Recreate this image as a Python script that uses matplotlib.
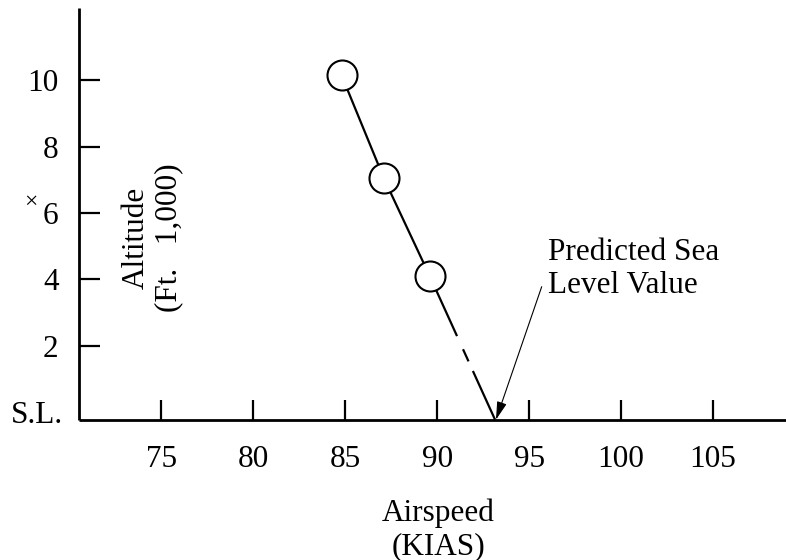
import matplotlib
matplotlib.use("Agg")
import matplotlib.pyplot as plt
from matplotlib.transforms import blended_transform_factory

plt.rcParams['font.family'] = ['Liberation Serif', 'DejaVu Serif']
plt.rcParams['lines.scale_dashes'] = False

# ---- data ----
airspeed_kias = [84.8, 87.1, 89.6]      # measured points
altitude_kft = [10.15, 7.05, 4.1]       # thousands of feet
predicted_sl_kias = 93.15               # extrapolated sea-level value
xtick_values = [75, 80, 85, 90, 95, 100, 105]
xtick_labels = ['75', '80', '85', '90', '95', '100', '105']
ytick_values = [2, 4, 6, 8, 10]
ytick_labels = ['2', '4', '6', '8', '10']

W, H = 786, 560
fig = plt.figure(figsize=(W / 100, H / 100), dpi=100)

left_px, bottom_px, top_px = 78.7, 419.7, 8
ax = fig.add_axes([left_px / W, (H - bottom_px) / H, (W - left_px) / W, (bottom_px - top_px) / H])

ymin, ymax = -0.22, 12.17
xmin, xmax = 70.51, 108.97
ax.set_xlim(xmin, xmax)
ax.set_ylim(ymin, ymax)

for s in ['top', 'right']:
    ax.spines[s].set_visible(False)
for s in ['left', 'bottom']:
    ax.spines[s].set_linewidth(2.0)
    ax.spines[s].set_capstyle('butt')

FS = 22.5
ax.set_xticks(xtick_values)
ax.set_xticklabels(xtick_labels)
ax.set_yticks(ytick_values)
ax.set_yticklabels(ytick_labels)
ax.tick_params(axis='x', direction='in', length=14.4, width=1.6, pad=18, labelsize=FS)
ax.tick_params(axis='y', direction='in', length=15, width=1.6, pad=14.5, labelsize=FS)

# S.L. label at altitude zero
trans = blended_transform_factory(fig.transFigure, ax.transData)
ax.text(62.8 / W, 0, 'S.L.', transform=trans, ha='right', va='center_baseline', fontsize=FS)

# measured line
ax.plot(airspeed_kias, altitude_kft, color='black', lw=1.6, solid_capstyle='butt', zorder=3)
# extrapolation to sea level
ext, = ax.plot([airspeed_kias[-1], predicted_sl_kias], [altitude_kft[-1], ymin],
               color='black', lw=1.6, zorder=3, dash_capstyle='butt')
ext.set_dashes([47.4, 10.4, 9.6, 7.6, 300, 1])
# markers
ax.plot(airspeed_kias, altitude_kft, linestyle='none', marker='o', markersize=21.6,
        markerfacecolor='white', markeredgecolor='black', markeredgewidth=1.5, zorder=4)

# annotation arrow + text
ax.annotate('', xy=(predicted_sl_kias + 0.05, ymin), xycoords='data',
            xytext=(541.7, H - 286.7), textcoords='figure pixels',
            arrowprops=dict(arrowstyle='-|>,head_length=1.1,head_width=0.3',
                            lw=0.8, color='black', shrinkA=0, shrinkB=0,
                            mutation_scale=10), zorder=5)
fig.text(548.5 / W, 1 - 238 / H, 'Predicted Sea\nLevel Value', ha='left', va='top',
         fontsize=FS)

# axis titles
fig.text(152.5 / W, 1 - 238 / H, 'Altitude\n(Ft.   1,000)', rotation=90,
         ha='center', va='center', multialignment='center', fontsize=FS)
fig.text(31 / W, 1 - 203 / H, '\u00d7', ha='center', va='center', fontsize=17)
fig.text(438 / W, 1 - 529.5 / H, 'Airspeed\n(KIAS)', ha='center', va='center',
         multialignment='center', fontsize=FS)

fig.savefig('out.png', dpi=100)
